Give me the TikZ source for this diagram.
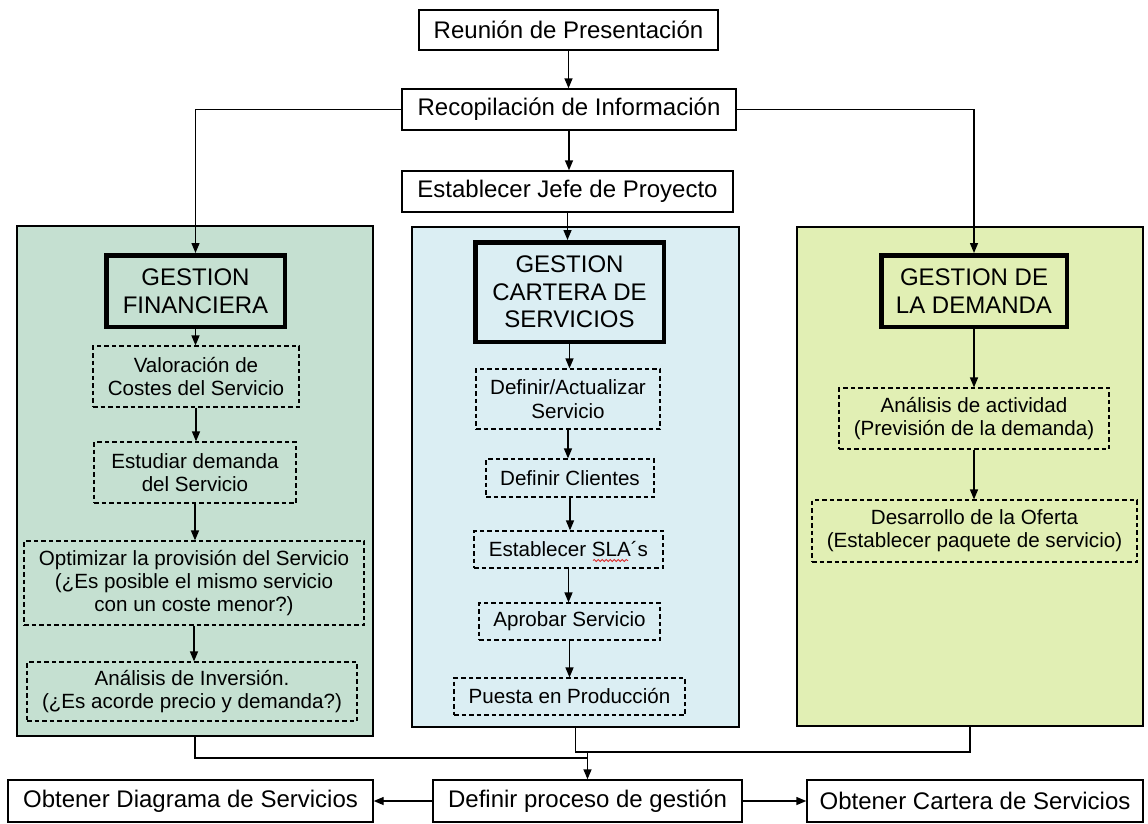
\documentclass[tikz,border=0pt]{standalone}
\usepackage{fontspec}
\setmainfont{Liberation Sans}
\usetikzlibrary{arrows.meta,decorations.pathmorphing}
\definecolor{finbg}{RGB}{197,224,209}
\definecolor{carbg}{RGB}{219,238,243}
\definecolor{dembg}{RGB}{225,239,180}
\definecolor{spellred}{RGB}{220,40,40}
\tikzset{
  sz/.style 2 args={minimum width=#1, minimum height=#2},
  flow/.style={draw, line width=1.4pt, fill=white, inner sep=0pt,
    font=\fontsize{24}{28}\selectfont},
  stage/.style={draw, line width=4.5pt, inner sep=0pt, align=center,
    font=\fontsize{24}{27.6}\selectfont},
  task/.style={draw, dash pattern=on 4.5pt off 3pt, line width=1.2pt,
    inner sep=0pt, align=center, font=\fontsize{20.6}{23.3}\selectfont},
  panel/.style={draw, line width=1.4pt, inner sep=0pt},
  link/.style={line width=1.4pt},
  arr/.style={line width=1.4pt, -{Triangle[length=10pt,width=8pt]}},
}
\begin{document}
\begin{tikzpicture}[x=1pt,y=-1pt]
\useasboundingbox[fill=white] (0,0) rectangle (1148,823);

% coloured areas for the three management processes
\node[panel, fill=finbg, sz={356}{510}] (pl) at (195,481) {};
\node[panel, fill=carbg, sz={327}{500}] (pc) at (575.5,477) {};
\node[panel, fill=dembg, sz={346}{499}] (pr) at (970,476.5) {};

% initial sequence
\node[flow, sz={299}{40}] (reu) at (568.5,30) {Reunión de Presentación};
\node[flow, sz={334}{41}] (rec) at (569,109.5) {Recopilación de Información};
\node[flow, sz={331}{41}] (jefe) at (567.5,191.5) {Establecer Jefe de Proyecto};

% process headings
\node[stage, sz={178.5}{71.5}] (gf) at (195.5,291) {GESTION\\FINANCIERA};
\node[stage, sz={188.5}{99.5}] (gc) at (569.5,292) {GESTION\\CARTERA DE\\SERVICIOS};
\node[stage, sz={185.5}{71.5}] (gd) at (974,291) {GESTION DE\\LA DEMANDA};

% financial management tasks
\node[task, sz={206}{61}] (val) at (196,376.5) {Valoración de\\Costes del Servicio};
\node[task, sz={202}{61}] (est) at (195,472.5) {Estudiar demanda\\del Servicio};
\node[task, sz={340}{84}] (opt) at (194,583) {Optimizar la provisión del Servicio\\(¿Es posible el mismo servicio\\con un coste menor?)};
\node[task, sz={330}{59}] (inv) at (192,691.5) {Análisis de Inversión.\\(¿Es acorde precio y demanda?)};

% service portfolio tasks
\node[task, sz={184}{60}] (act) at (568,399) {Definir/Actualizar\\Servicio};
\node[task, sz={168}{38}] (cli) at (570,478) {Definir Clientes};
\node[task, sz={189}{37}] (sla) at (568.5,549.5) {Establecer SLA´s};
\node[task, sz={181}{37}] (apr) at (569.5,621.5) {Aprobar Servicio};
\node[task, sz={231}{37}] (pue) at (569.5,696.5) {Puesta en Producción};

% demand management tasks
\node[task, sz={270}{61}] (ana) at (974,418.5) {Análisis de actividad\\(Previsión de la demanda)};
\node[task, sz={325}{62}] (ofe) at (974.5,531) {Desarrollo de la Oferta\\(Establecer paquete de servicio)};

% final step and its results
\node[flow, sz={309}{42}] (dproc) at (587.5,801) {Definir proceso de gestión};
\node[flow, sz={365}{42}] (odiag) at (190.5,801) {Obtener Diagrama de Servicios};
\node[flow, sz={336}{42}] (ocart) at (975,801) {Obtener Cartera de Servicios};

% spell-check underline
\draw[spellred, line width=0.8pt, decorate,
  decoration={snake, amplitude=1pt, segment length=4pt}]
  (593,560.5) -- (628,560.5);

% connectors of the initial sequence
\draw[arr] (reu.south) -- (reu.south |- rec.north);
\draw[arr] (rec.south) -- (rec.south |- jefe.north);
\draw[arr] (jefe.south) -- (jefe.south |- gc.north);
\draw[arr] (rec.west) -| (gf.north);
\draw[arr] (rec.east) -| (gd.north);

% connectors inside the panels
\draw[arr] (gf.south) -- (gf.south |- val.north);
\draw[arr] (val.south) -- (val.south |- est.north);
\draw[arr] (est.south) -- (est.south |- opt.north);
\draw[arr] (opt.south) -- (opt.south |- inv.north);

\draw[arr] (gc.south) -- (gc.south |- act.north);
\draw[arr] (act.south) -- (act.south |- cli.north);
\draw[arr] (cli.south) -- (cli.south |- sla.north);
\draw[arr] (sla.south) -- (sla.south |- apr.north);
\draw[arr] (apr.south) -- (apr.south |- pue.north);

\draw[arr] (gd.south) -- (gd.south |- ana.north);
\draw[arr] (ana.south) -- (ana.south |- ofe.north);

% merging the three processes
\coordinate (mleft) at (587.5,758);
\coordinate (merge) at (587.5,752);
\draw[link] (pl.south) |- (mleft);
\draw[link] (pc.south) |- (merge) -| (pr.south);
\draw[arr] (merge) -- (dproc.north);

\draw[arr] (dproc.west) -- (odiag.east);
\draw[arr] (dproc.east) -- (ocart.west);
\end{tikzpicture}
\end{document}
